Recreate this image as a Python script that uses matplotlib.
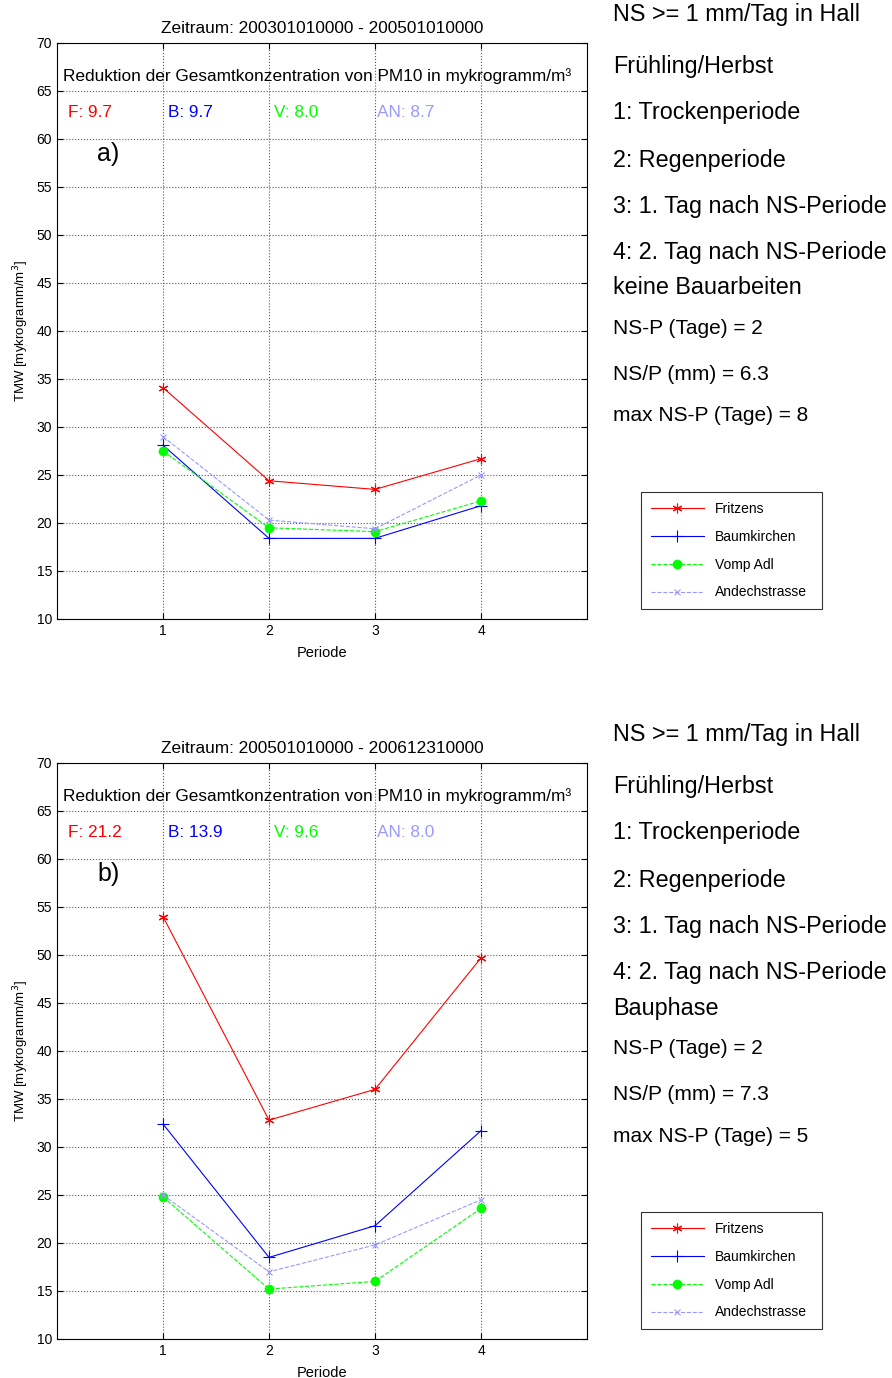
import matplotlib.pyplot as plt

plt.rcParams['font.family'] = ['Liberation Sans', 'DejaVu Sans']

perioden = [1, 2, 3, 4]
stationen = ["Fritzens", "Baumkirchen", "Vomp Adl", "Andechstrasse"]

# Panel a) 2003-2005
fritzens_a = [34.1, 24.4, 23.5, 26.7]
baumkirchen_a = [28.1, 18.4, 18.4, 21.8]
vomp_a = [27.5, 19.5, 19.1, 22.3]
andechs_a = [29.0, 20.3, 19.4, 25.0]

# Panel b) 2005-2006
fritzens_b = [54.0, 32.8, 36.0, 49.7]
baumkirchen_b = [32.4, 18.5, 21.8, 31.7]
vomp_b = [24.8, 15.2, 16.0, 23.6]
andechs_b = [25.0, 17.0, 19.8, 24.5]

zeitraum = ["Zeitraum: 200301010000 - 200501010000",
            "Zeitraum: 200501010000 - 200612310000"]
reduktion_a = ["F: 9.7", "B: 9.7", "V: 8.0", "AN: 8.7"]
reduktion_b = ["F: 21.2", "B: 13.9", "V: 9.6", "AN: 8.0"]
panel_labels = ["a)", "b)"]

info_a = ["NS >= 1 mm/Tag in Hall", "Frühling/Herbst", "1: Trockenperiode",
          "2: Regenperiode", "3: 1. Tag nach NS-Periode", "4: 2. Tag nach NS-Periode",
          "keine Bauarbeiten", "NS-P (Tage) = 2", "NS/P (mm) = 6.3", "max NS-P (Tage) = 8"]
info_b = ["NS >= 1 mm/Tag in Hall", "Frühling/Herbst", "1: Trockenperiode",
          "2: Regenperiode", "3: 1. Tag nach NS-Periode", "4: 2. Tag nach NS-Periode",
          "Bauphase", "NS-P (Tage) = 2", "NS/P (mm) = 7.3", "max NS-P (Tage) = 5"]

W, H = 892, 1378
fig = plt.figure(figsize=(W / 100, H / 100), dpi=100)

farben = ['red', 'blue', (0, 1, 0), (0.6, 0.6, 1.0)]
stile = [dict(ls='-', marker=(6, 2, 0), ms=7, mew=0.8),
         dict(ls='-', marker='+', ms=9, mew=0.8),
         dict(ls='--', marker='o', ms=7, mew=0),
         dict(ls='--', marker='x', ms=5, mew=0.8)]


def panel(top_px, serien, titel, red, label, info, legend_top):
    ax = fig.add_axes([57 / W, 1 - (top_px + 576) / H, 530 / W, 576 / H])
    for daten, name, farbe, stil in zip(serien, stationen, farben, stile):
        ax.plot(perioden, daten, color=farbe, lw=0.8, label=name, **stil)
    ax.set_xlim(0, 5)
    ax.set_ylim(10, 70)
    ax.set_xticks(perioden)
    ax.set_yticks(range(10, 71, 5))
    ax.grid(True, ls=':', color='0.35', lw=0.8)
    ax.tick_params(direction='in', labelsize=10, top=True, right=True, length=4)
    ax.set_xlabel("Periode", fontsize=10.5, labelpad=6)
    ax.set_ylabel("TMW [mykrogramm/m$^3$]", fontsize=9.5)
    ax.set_title(titel, fontsize=12.4, pad=7)
    ax.text(0.06, 66.6, "Reduktion der Gesamtkonzentration von PM10 in mykrogramm/m³",
            fontsize=12.4, va='center')
    for xpos, txt, farbe in zip([0.1, 1.05, 2.05, 3.02], red, farben):
        ax.text(xpos, 62.8, txt, color=farbe, fontsize=12.4, va='center')
    ax.text(0.38, 58.4, label, fontsize=18, va='center')

    # Legend placed to the right of the plot
    leg = ax.legend(loc='upper left',
                    bbox_to_anchor=(641 / W, 1 - (legend_top + 112) / H, 181 / W, 112 / H),
                    bbox_transform=fig.transFigure, mode='expand',
                    fontsize=10, frameon=True, fancybox=False, edgecolor='black',
                    handlelength=3.8, labelspacing=1.0, borderaxespad=0,
                    borderpad=0.7)
    leg.get_frame().set_linewidth(0.8)

    ys = [15, 67, 113, 160, 206, 252, 288, 328, 374, 416]
    for i, (txt, y) in enumerate(zip(info, ys)):
        fs = 15 if i >= 7 else 16.8
        fig.text(613 / W, 1 - (top_px - 43 + y) / H, txt, fontsize=fs, va='center')


panel(43, [fritzens_a, baumkirchen_a, vomp_a, andechs_a], zeitraum[0],
      reduktion_a, panel_labels[0], info_a, 492)
panel(763, [fritzens_b, baumkirchen_b, vomp_b, andechs_b], zeitraum[1],
      reduktion_b, panel_labels[1], info_b, 1212)

fig.savefig("out.png", dpi=100)
